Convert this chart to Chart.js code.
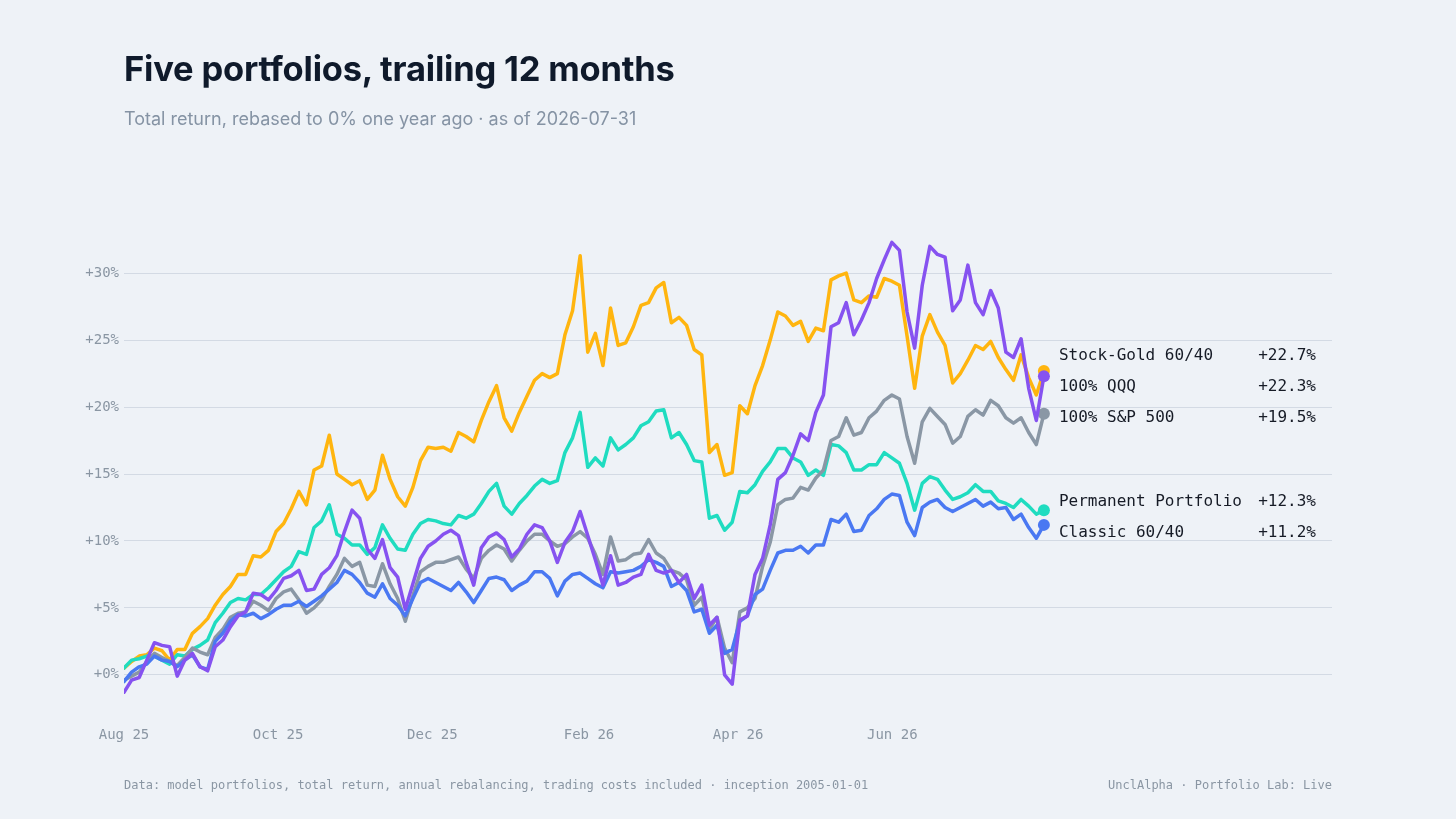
<!DOCTYPE html>
<html>
<head>
<meta charset="utf-8">
<script src="https://cdn.jsdelivr.net/npm/chart.js@4.4.1/dist/chart.umd.min.js"></script>
<style>
  html, body { margin: 0; padding: 0; background: #eef2f7; }
  body { width: 1456px; height: 819px; position: relative; overflow: hidden; font-family: Inter, "Noto Sans", sans-serif; }
  #chart { position: absolute; left: 0; top: 0; }
  #title { position: absolute; left: 124px; top: 48px; font-size: 34.5px; font-weight: 700; color: #0f1a2b; letter-spacing: -0.2px; white-space: nowrap; }
  #sub { position: absolute; left: 124px; top: 108px; font-size: 18px; color: #8593a4; white-space: nowrap; }
  .foot { position: absolute; top: 778px; font-family: "DejaVu Sans Mono", monospace; font-size: 12px; color: #8a96a3; white-space: nowrap; }
  #footL { left: 124px; }
  #footR { right: 124px; }
</style>
</head>
<body>
<canvas id="chart" width="1456" height="819"></canvas>
<div id="title">Five portfolios, trailing 12 months</div>
<div id="sub">Total return, rebased to 0% one year ago · as of 2026-07-31</div>
<div class="foot" id="footL">Data: model portfolios, total return, annual rebalancing, trading costs included · inception 2005-01-01</div>
<div class="foot" id="footR">UnclAlpha · Portfolio Lab: Live</div>
<script>
// ---- data (percent total return, sampled every ~3 calendar days from 2025-08-01 to 2026-07-31) ----
const DAY_SPAN = 364;               // 2025-08-01 .. 2026-07-31
const AXIS_MAX_DAYS = 478;          // axis runs past the data to leave room for labels

const tickDays   = [0, 61, 122, 184, 243, 304];
const tickLabels = ['Aug 25', 'Oct 25', 'Dec 25', 'Feb 26', 'Apr 26', 'Jun 26'];
const yTicks     = [0, 5, 10, 15, 20, 25, 30];

const seriesNames = ['100% QQQ', 'Classic 60/40', '100% S&P 500', 'Permanent Portfolio', 'Stock-Gold 60/40'];

const stockGold = [0.5,1.0,1.4,1.5,2.0,1.8,1.1,1.9,1.9,3.1, 3.6,4.2,5.2,6.0,6.6,7.5,7.5,8.9,8.8,9.3,
  10.7,11.3,12.4,13.7,12.7,15.3,15.6,17.9,15.0,14.6, 14.2,14.5,13.1,13.8,16.4,14.6,13.3,12.6,14.0,16.0,
  17.0,16.9,17.0,16.7,18.1,17.8,17.4,19.0,20.4,21.6, 19.2,18.2,19.6,20.8,22.0,22.5,22.2,22.5,25.4,27.2,
  31.3,24.1,25.5,23.1,27.4,24.6,24.8,26.0,27.6,27.8, 28.9,29.3,26.3,26.7,26.1,24.3,23.9,16.6,17.2,14.9,
  15.1,20.1,19.5,21.6,23.1,25.0,27.1,26.8,26.1,26.4, 24.9,25.9,25.7,29.5,29.8,30.0,28.0,27.8,28.3,28.2,
  29.6,29.4,29.1,25.3,21.4,25.3,26.9,25.6,24.6,21.8, 22.5,23.5,24.6,24.3,24.9,23.7,22.8,22.0,23.9,22.2,
  20.9,22.7];

const qqq = [-1.3,-0.4,-0.2,1.1,2.4,2.2,2.1,-0.1,1.1,1.6, 0.6,0.3,2.1,2.6,3.6,4.4,4.7,6.1,6.0,5.6,
  6.3,7.2,7.4,7.8,6.3,6.4,7.5,8.0,8.9,10.7, 12.3,11.7,9.4,8.7,10.1,8.0,7.3,4.9,6.8,8.7,
  9.6,10.0,10.5,10.8,10.4,8.4,6.7,9.5,10.3,10.6, 10.1,8.8,9.4,10.5,11.2,11.0,10.0,8.4,9.9,10.7,
  12.2,10.4,8.6,6.7,8.9,6.7,6.9,7.3,7.5,9.0, 7.8,7.6,7.8,6.9,7.5,5.7,6.7,3.7,4.3,0.0,
  -0.7,4.1,4.4,7.5,8.7,11.2,14.6,15.1,16.4,18.0, 17.5,19.6,20.9,26.0,26.3,27.8,25.4,26.5,27.8,29.6,
  31.0,32.3,31.7,27.1,24.4,29.1,32.0,31.4,31.2,27.2, 28.0,30.6,27.8,26.9,28.7,27.4,24.1,23.7,25.1,21.4,
  19.0,22.3];

const sp500 = [-0.4,-0.1,0.2,1.0,1.6,1.3,1.0,0.7,1.3,2.0, 1.7,1.5,2.8,3.4,4.3,4.6,4.7,5.5,5.2,4.8,
  5.7,6.2,6.4,5.6,4.6,5.0,5.6,6.6,7.5,8.7, 8.1,8.4,6.7,6.6,8.3,6.8,5.7,4.0,5.9,7.7,
  8.1,8.4,8.4,8.6,8.8,7.9,7.2,8.7,9.3,9.7, 9.4,8.5,9.3,10.0,10.5,10.5,10.0,9.6,9.8,10.3,
  10.7,10.2,9.0,7.5,10.3,8.5,8.6,9.0,9.1,10.1, 9.1,8.7,7.8,7.6,7.1,5.2,5.8,3.4,4.3,2.0,
  0.9,4.7,5.0,5.7,8.1,9.9,12.7,13.1,13.2,14.0, 13.8,14.7,15.3,17.5,17.8,19.2,17.9,18.1,19.2,19.7,
  20.5,20.9,20.6,17.8,15.8,18.9,19.9,19.3,18.7,17.3, 17.8,19.3,19.8,19.4,20.5,20.1,19.2,18.8,19.2,18.1,
  17.2,19.5];

const permanent = [0.5,1.1,1.2,1.4,1.4,1.1,0.8,1.5,1.4,1.9, 2.2,2.6,3.9,4.6,5.4,5.7,5.6,6.0,6.0,6.5,
  7.1,7.7,8.1,9.2,9.0,11.0,11.5,12.7,10.5,10.2, 9.7,9.7,9.0,9.5,11.2,10.2,9.4,9.3,10.5,11.3,
  11.6,11.5,11.3,11.2,11.9,11.7,12.0,12.8,13.7,14.3, 12.6,12.0,12.8,13.4,14.1,14.6,14.3,14.5,16.6,17.7,
  19.6,15.5,16.2,15.6,17.7,16.8,17.2,17.7,18.6,18.9, 19.7,19.8,17.7,18.1,17.2,16.0,15.9,11.7,11.9,10.8,
  11.4,13.7,13.6,14.2,15.2,15.9,16.9,16.9,16.2,15.9, 14.9,15.3,14.9,17.2,17.1,16.6,15.3,15.3,15.7,15.7,
  16.6,16.2,15.8,14.3,12.3,14.3,14.8,14.6,13.8,13.1, 13.3,13.6,14.2,13.7,13.7,13.0,12.8,12.5,13.1,12.6,
  12.0,12.3];

const classic = [-0.5,0.2,0.6,0.8,1.4,1.1,1.0,0.6,1.1,1.5, 0.6,0.4,2.5,3.1,4.0,4.5,4.4,4.6,4.2,4.5,
  4.9,5.2,5.2,5.5,5.1,5.5,5.9,6.4,6.9,7.8, 7.5,6.9,6.1,5.8,6.8,5.7,5.2,4.4,5.7,6.9,
  7.2,6.9,6.6,6.3,6.9,6.2,5.4,6.3,7.2,7.3, 7.1,6.3,6.7,7.0,7.7,7.7,7.2,5.9,7.0,7.5,
  7.6,7.2,6.8,6.5,7.7,7.6,7.7,7.8,8.1,8.6, 8.4,8.1,6.6,6.9,6.3,4.7,4.9,3.1,3.7,1.6,
  1.9,4.0,4.4,6.0,6.4,7.8,9.1,9.3,9.3,9.6, 9.1,9.7,9.7,11.6,11.4,12.0,10.7,10.8,11.9,12.4,
  13.1,13.5,13.4,11.4,10.4,12.5,12.9,13.1,12.5,12.2, 12.5,12.8,13.1,12.6,12.9,12.4,12.5,11.6,12.0,11.0,
  10.2,11.2];

// legend / label order (top to bottom at the right edge) and drawing colours
const labelOrder = ['Stock-Gold 60/40', '100% QQQ', '100% S&P 500', 'Permanent Portfolio', 'Classic 60/40'];
const colors = {
  '100% QQQ': '#8652f0',
  'Classic 60/40': '#4a78f2',
  '100% S&P 500': '#8a97a5',
  'Permanent Portfolio': '#1fdcc0',
  'Stock-Gold 60/40': '#ffb50f'
};
const seriesValues = {
  '100% QQQ': qqq,
  'Classic 60/40': classic,
  '100% S&P 500': sp500,
  'Permanent Portfolio': permanent,
  'Stock-Gold 60/40': stockGold
};

function toPoints(vals) {
  const step = DAY_SPAN / (vals.length - 1);
  return vals.map((v, i) => ({ x: i * step, y: v }));
}

const MONO = '"DejaVu Sans Mono", "Liberation Mono", monospace';

const datasets = seriesNames.map(name => {
  const vals = seriesValues[name];
  const last = vals.length - 1;
  return {
    label: name,
    data: toPoints(vals),
    borderColor: colors[name],
    backgroundColor: colors[name],
    borderWidth: 3.5,
    tension: 0,
    borderJoinStyle: 'round',
    borderCapStyle: 'round',
    pointRadius: ctx => ctx.dataIndex === last ? 6 : 0,
    pointBorderWidth: 0,
    pointHoverRadius: 0,
    fill: false
  };
});

const endLabels = {
  id: 'endLabels',
  afterDatasetsDraw(chart) {
    const { ctx, scales: { x, y }, chartArea } = chart;
    const gap = 31;
    const items = chart.data.datasets.map(ds => {
      const p = ds.data[ds.data.length - 1];
      return { name: ds.label, v: p.y, lastX: p.x, target: y.getPixelForValue(p.y), rank: labelOrder.indexOf(ds.label) };
    });
    items.sort((a, b) => a.target - b.target || a.rank - b.rank);
    let groups = items.map(it => ({ items: [it], sum: it.target }));
    const start = g => g.sum / g.items.length - (g.items.length - 1) * gap / 2;
    let merged = true;
    while (merged) {
      merged = false;
      for (let i = 0; i < groups.length - 1; i++) {
        const a = groups[i], b = groups[i + 1];
        if (start(a) + a.items.length * gap > start(b)) {
          groups.splice(i, 2, { items: a.items.concat(b.items), sum: a.sum + b.sum });
          merged = true;
          break;
        }
      }
    }
    const nameX = x.getPixelForValue(items[0].lastX) + 15;
    const valX = chartArea.right - 16;
    ctx.save();
    ctx.font = '16px ' + MONO;
    ctx.fillStyle = '#161b26';
    ctx.textBaseline = 'middle';
    groups.forEach(g => {
      let py = start(g);
      g.items.forEach(it => {
        ctx.textAlign = 'left';
        ctx.fillText(it.name, nameX, py);
        ctx.textAlign = 'right';
        ctx.fillText((it.v >= 0 ? '+' : '') + it.v.toFixed(1) + '%', valX, py);
        py += gap;
      });
    });
    ctx.restore();
  }
};

new Chart(document.getElementById('chart'), {
  type: 'line',
  data: { datasets },
  options: {
    responsive: false,
    animation: false,
    events: [],
    layout: { padding: { top: 233, right: 124, bottom: 74, left: 0 } },
    plugins: { legend: { display: false }, tooltip: { enabled: false }, title: { display: false } },
    scales: {
      x: {
        type: 'linear',
        min: 0,
        max: AXIS_MAX_DAYS,
        border: { display: false },
        grid: { display: false, drawTicks: false },
        afterFit: s => { s.height = 30; },
        afterBuildTicks: s => { s.ticks = tickDays.map(v => ({ value: v })); },
        ticks: {
          autoSkip: false,
          maxRotation: 0,
          padding: 12,
          color: '#8a96a3',
          font: { family: MONO, size: 14 },
          callback: v => tickLabels[tickDays.indexOf(v)]
        }
      },
      y: {
        min: -3,
        max: 33,
        border: { display: false },
        grid: { color: '#d3dae4', lineWidth: 1, drawTicks: false },
        afterFit: s => { s.width = 124; },
        afterBuildTicks: s => { s.ticks = yTicks.map(v => ({ value: v })); },
        ticks: {
          padding: 5,
          color: '#8a96a3',
          font: { family: MONO, size: 14 },
          callback: v => '+' + v + '%'
        }
      }
    }
  },
  plugins: [endLabels]
});
</script>
</body>
</html>
